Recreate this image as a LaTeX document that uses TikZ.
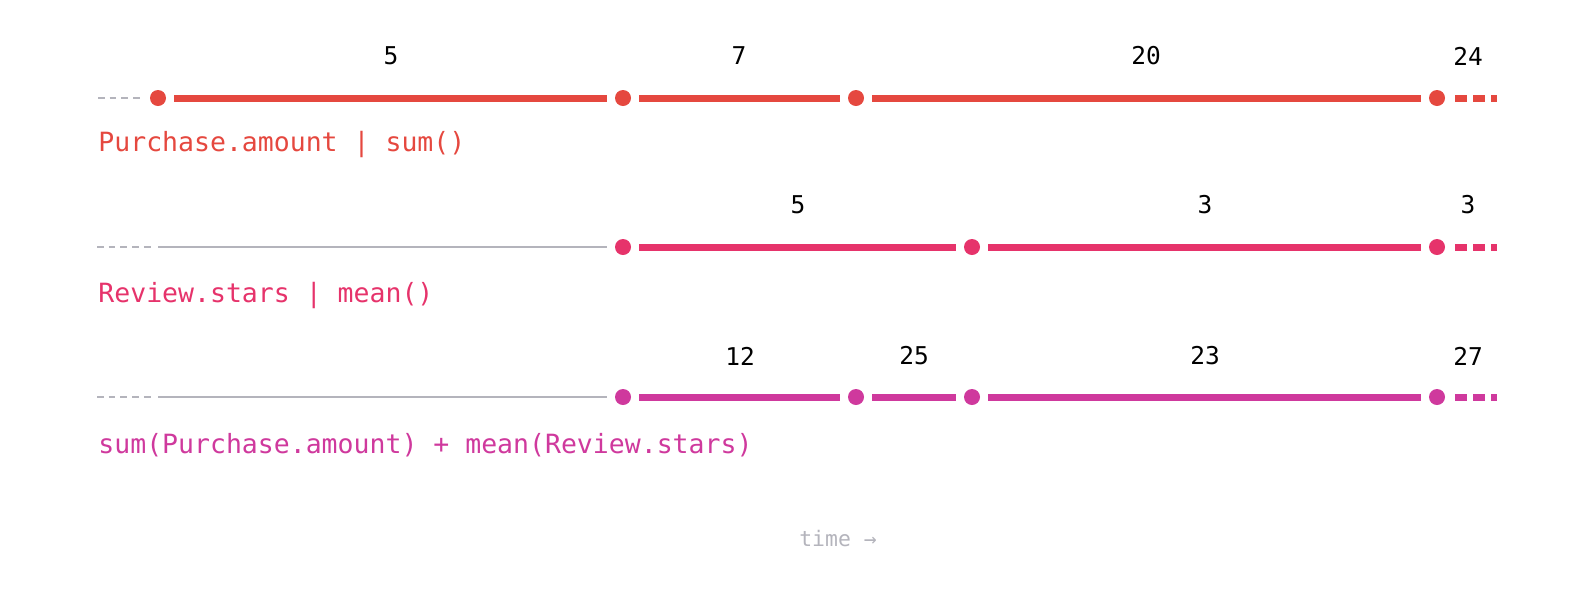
\documentclass[tikz,border=0pt]{standalone}
\usepackage{fontspec}
\setmonofont{DejaVu Sans Mono}
\definecolor{amountred}{HTML}{E5483F}
\definecolor{starspink}{HTML}{E6336B}
\definecolor{summagenta}{HTML}{CF399D}
\definecolor{axisgray}{HTML}{B4B4BC}
\begin{document}
\begin{tikzpicture}[x=0.5pt,y=-0.5pt,
 dot/.style={circle,fill=#1,minimum size=8pt,inner sep=0pt,outer sep=0pt},
 linkseg/.style={draw=#1,line width=3.5pt,shorten <=4pt,shorten >=4pt},
 tailseg/.style={draw=#1,line width=3.5pt,dash pattern=on 6pt off 3pt,shorten <=5pt},
 leadgray/.style={draw=axisgray,line width=1pt,dash pattern=on 3.35pt off 2.5pt},
 restgray/.style={draw=axisgray,line width=1pt,shorten >=4pt},
 numlbl/.style={font=\ttfamily\fontsize{12.25}{14}\selectfont},
 exprlbl/.style={anchor=base west,inner sep=0pt,text=#1,font=\ttfamily\fontsize{13.25}{16}\selectfont}]
\useasboundingbox (0,0) rectangle (1596,596);

\coordinate (p0) at (98,98);
\node[dot=amountred] at (158,98)(p1) {};
\node[dot=amountred] at (623,98)(p2) {};
\node[dot=amountred] at (856,98)(p3) {};
\node[dot=amountred] at (1437,98)(p4) {};
\coordinate (p5) at (1497,98);
\draw[leadgray,shorten >=5pt] (p0) -- (p1);
\draw[linkseg=amountred] (p1) -- (p2);
\draw[linkseg=amountred] (p2) -- (p3);
\draw[linkseg=amountred] (p3) -- (p4);
\draw[tailseg=amountred] (p4) -- (p5);
\node[numlbl] (pv1) at (391,56) {5};
\node[numlbl] (pv2) at (739,56) {7};
\node[numlbl] (pv3) at (1146,56) {20};
\node[numlbl] (pv4) at (1468,56) {24};
\node[exprlbl=amountred] (pname) at (98,151) {Purchase.amount | sum()};

\coordinate (r0) at (97,247);
\coordinate (rg) at (158,247);
\node[dot=starspink] at (623,247)(r1) {};
\node[dot=starspink] at (972,247)(r2) {};
\node[dot=starspink] at (1437,247)(r3) {};
\coordinate (r4) at (1497,247);
\draw[leadgray,shorten >=2.5pt] (r0) -- (rg);
\draw[restgray] (rg) -- (r1);
\draw[linkseg=starspink] (r1) -- (r2);
\draw[linkseg=starspink] (r2) -- (r3);
\draw[tailseg=starspink] (r3) -- (r4);
\node[numlbl] (rv1) at (798,205) {5};
\node[numlbl] (rv2) at (1205,205) {3};
\node[numlbl] (rv3) at (1468,205) {3};
\node[exprlbl=starspink] (rname) at (98,302) {Review.stars | mean()};

\coordinate (s0) at (97,397);
\coordinate (sg) at (158,397);
\node[dot=summagenta] at (623,397)(s1) {};
\node[dot=summagenta] at (856,397)(s2) {};
\node[dot=summagenta] at (972,397)(s3) {};
\node[dot=summagenta] at (1437,397)(s4) {};
\coordinate (s5) at (1497,397);
\draw[leadgray,shorten >=2.5pt] (s0) -- (sg);
\draw[restgray] (sg) -- (s1);
\draw[linkseg=summagenta] (s1) -- (s2);
\draw[linkseg=summagenta] (s2) -- (s3);
\draw[linkseg=summagenta] (s3) -- (s4);
\draw[tailseg=summagenta] (s4) -- (s5);
\node[numlbl] (sv1) at (740,356) {12};
\node[numlbl] (sv2) at (914,356) {25};
\node[numlbl] (sv3) at (1205,356) {23};
\node[numlbl] (sv4) at (1468,356) {27};
\node[exprlbl=summagenta] (sname) at (98,453) {sum(Purchase.amount) + mean(Review.stars)};

\node[text=axisgray,font=\ttfamily\fontsize{10.7}{13}\selectfont] (timelbl) at (838,539) {time →};
\end{tikzpicture}
\end{document}
